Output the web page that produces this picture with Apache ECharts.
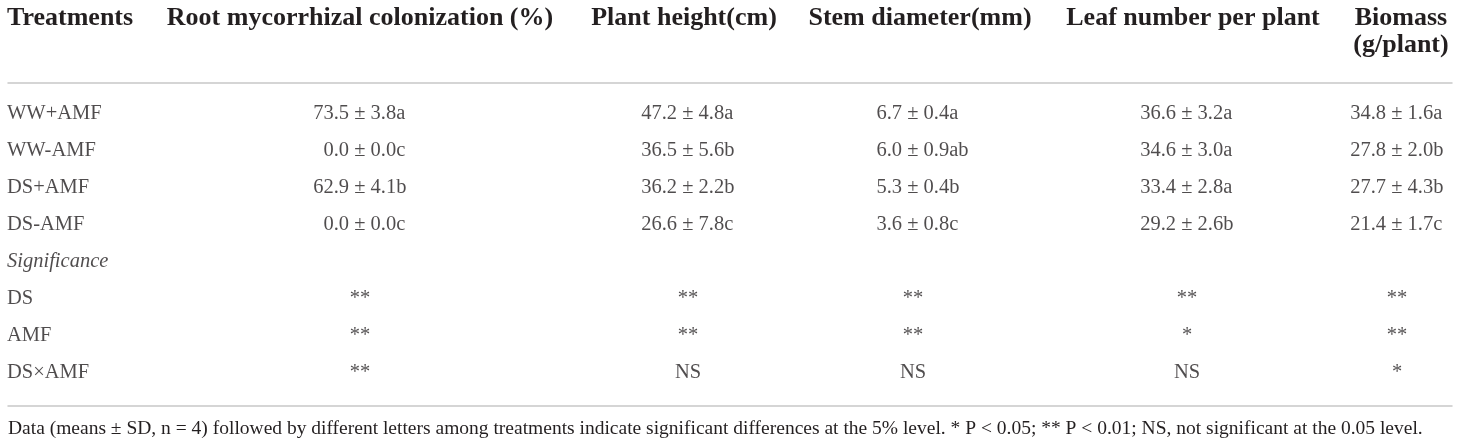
<!DOCTYPE html>
<html><head><meta charset="utf-8">
<script src="https://cdn.jsdelivr.net/npm/echarts@6/dist/echarts.min.js"></script>
<style>html,body{margin:0;padding:0;background:#fff}#c{width:1460px;height:447px}</style>
</head><body><div id="c"></div>
<script>
// ---------- data ----------
const headers = ['Treatments', 'Root mycorrhizal colonization (%)', 'Plant height(cm)', 'Stem diameter(mm)', 'Leaf number per plant', 'Biomass\n(g/plant)'];
const rows = ['WW+AMF', 'WW-AMF', 'DS+AMF', 'DS-AMF', 'Significance', 'DS', 'AMF', 'DS×AMF'];
const treatments = ['WW+AMF', 'WW-AMF', 'DS+AMF', 'DS-AMF'];
const factors = ['DS', 'AMF', 'DS×AMF'];

const colonMean = [73.5, 0.0, 62.9, 0.0];
const colonSD = [3.8, 0.0, 4.1, 0.0];
const colonLetter = ['a', 'c', 'b', 'c'];
const colonSig = ['**', '**', '**'];

const heightMean = [47.2, 36.5, 36.2, 26.6];
const heightSD = [4.8, 5.6, 2.2, 7.8];
const heightLetter = ['a', 'b', 'b', 'c'];
const heightSig = ['**', '**', 'NS'];

const stemMean = [6.7, 6.0, 5.3, 3.6];
const stemSD = [0.4, 0.9, 0.4, 0.8];
const stemLetter = ['a', 'ab', 'b', 'c'];
const stemSig = ['**', '**', 'NS'];

const leafMean = [36.6, 34.6, 33.4, 29.2];
const leafSD = [3.2, 3.0, 2.8, 2.6];
const leafLetter = ['a', 'a', 'a', 'b'];
const leafSig = ['**', '*', 'NS'];

const biomassMean = [34.8, 27.8, 27.7, 21.4];
const biomassSD = [1.6, 2.0, 4.3, 1.7];
const biomassLetter = ['a', 'b', 'b', 'c'];
const biomassSig = ['**', '**', '*'];

const footnote = 'Data (means ± SD, n = 4) followed by different letters among treatments indicate significant differences at the 5% level. * P < 0.05; ** P < 0.01; NS, not significant at the 0.05 level.';

// ---------- layout / style ----------
const FONT = '"Liberation Serif", "Times New Roman", serif';
const TXT = '#231f20';
const headerX = [7, 360, 684, 920, 1193, 1401];
const bodyX   = [7, 360, 688, 913, 1187, 1397];
const BODY_SIZE = 20.5, HEAD_SIZE = 26;
const PM_HALF = 5.8, SPACE = 5.1;
const GRID_TOP = 95.5, ROW_H = 37;

const valueCols = [
  {mean: colonMean, sd: colonSD, letter: colonLetter, sig: colonSig},
  {mean: heightMean, sd: heightSD, letter: heightLetter, sig: heightSig},
  {mean: stemMean, sd: stemSD, letter: stemLetter, sig: stemSig},
  {mean: leafMean, sd: leafSD, letter: leafLetter, sig: leafSig},
  {mean: biomassMean, sd: biomassSD, letter: biomassLetter, sig: biomassSig}
];

const grids = [], xAxes = [], yAxes = [], series = [];
const baseLabel = {show: true, fontFamily: FONT, fontSize: BODY_SIZE, color: TXT};

headers.forEach((h, i) => {
  const w = 14;
  grids.push({left: headerX[i] - w / 2, width: w, top: GRID_TOP, height: ROW_H * rows.length});
  xAxes.push({
    type: 'category', gridIndex: i, position: 'top', data: [h],
    axisLine: {show: false}, axisTick: {show: false}, splitLine: {show: false},
    axisLabel: {
      interval: 0, margin: GRID_TOP - 4.5, verticalAlign: 'top', align: i === 0 ? 'left' : 'center',
      fontFamily: FONT, fontSize: HEAD_SIZE, fontWeight: 'bold', lineHeight: 27, color: TXT
    }
  });
  yAxes.push({type: 'category', gridIndex: i, data: rows, inverse: true, show: false});
});

// treatments column
series.push({
  type: 'scatter', xAxisIndex: 0, yAxisIndex: 0, symbolSize: 0, silent: true,
  data: rows.map(r => ({value: [headers[0], r], label: r === 'Significance' ? {fontStyle: 'italic'} : {}})),
  label: Object.assign({}, baseLabel, {position: 'right', distance: 0, formatter: p => p.value[1]})
});

valueCols.forEach((c, k) => {
  const i = k + 1;
  const dx = bodyX[i] - headerX[i];
  series.push({
    type: 'scatter', xAxisIndex: i, yAxisIndex: i, symbolSize: 0, silent: true,
    data: treatments.map(t => [headers[i], t]),
    label: Object.assign({}, baseLabel, {position: 'left', distance: 0, offset: [dx - PM_HALF - SPACE, 0],
      formatter: p => c.mean[p.dataIndex].toFixed(1)})
  });
  series.push({
    type: 'scatter', xAxisIndex: i, yAxisIndex: i, symbolSize: 0, silent: true,
    data: treatments.map(t => [headers[i], t]),
    label: Object.assign({}, baseLabel, {position: 'right', distance: 0, offset: [dx - PM_HALF, 0],
      formatter: p => '± ' + c.sd[p.dataIndex].toFixed(1) + c.letter[p.dataIndex]})
  });
  series.push({
    type: 'scatter', xAxisIndex: i, yAxisIndex: i, symbolSize: 0, silent: true,
    data: factors.map(f => [headers[i], f]),
    label: Object.assign({}, baseLabel, {position: 'inside', offset: [dx, 0],
      formatter: p => c.sig[p.dataIndex]})
  });
});

// frame grid for the horizontal rules
const fi = headers.length;
grids.push({left: 8, right: 8, top: 83, bottom: 41});
const ruleLine = {show: true, onZero: false, lineStyle: {color: '#c8c8c8', width: 1.5}};
xAxes.push({type: 'value', gridIndex: fi, position: 'top', min: 0, max: 1, axisLine: ruleLine,
  axisTick: {show: false}, axisLabel: {show: false}, splitLine: {show: false}});
xAxes.push({type: 'value', gridIndex: fi, position: 'bottom', min: 0, max: 1, axisLine: ruleLine,
  axisTick: {show: false}, axisLabel: {show: false}, splitLine: {show: false}});
yAxes.push({type: 'value', gridIndex: fi, min: 0, max: 1, show: false});

const chart = echarts.init(document.getElementById('c'), null, {renderer: 'canvas'});
chart.setOption({
  animation: false,
  backgroundColor: '#fff',
  title: {text: footnote, left: 8, top: 419, padding: 0,
    textStyle: {fontFamily: FONT, fontSize: 19.5, lineHeight: 20, fontWeight: 'normal', color: TXT}},
  grid: grids, xAxis: xAxes, yAxis: yAxes, series: series
});
</script></body></html>
